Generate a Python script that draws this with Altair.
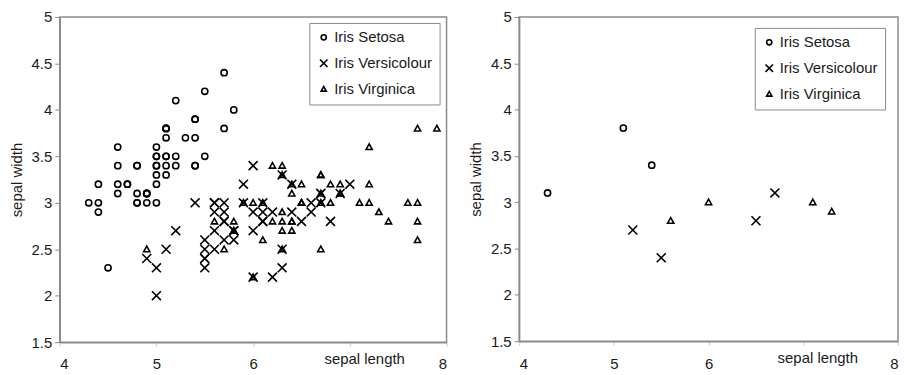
import altair as alt
import pandas as pd

species = ["Iris Setosa", "Iris Versicolour", "Iris Virginica"]

# ---- left panel: full data (sepal length, sepal width) ----
setosa_len = [5.1, 4.9, 4.7, 4.6, 5.0, 5.4, 4.6, 5.0, 4.4, 4.9, 5.4, 4.8, 4.8, 4.3, 5.8, 5.7, 5.4, 5.1, 5.7, 5.1,
              5.4, 5.1, 4.6, 5.1, 4.8, 5.0, 5.0, 5.2, 5.2, 4.7, 4.8, 5.4, 5.2, 5.5, 4.9, 5.0, 5.5, 4.9, 4.4, 5.1,
              5.0, 4.5, 4.4, 5.0, 5.1, 4.8, 5.1, 4.6, 5.3, 5.0]
setosa_wid = [3.5, 3.0, 3.2, 3.1, 3.6, 3.9, 3.4, 3.4, 2.9, 3.1, 3.7, 3.4, 3.0, 3.0, 4.0, 4.4, 3.9, 3.5, 3.8, 3.8,
              3.4, 3.7, 3.6, 3.3, 3.4, 3.0, 3.4, 3.5, 3.4, 3.2, 3.1, 3.4, 4.1, 4.2, 3.1, 3.2, 3.5, 3.1, 3.0, 3.4,
              3.5, 2.3, 3.2, 3.5, 3.8, 3.0, 3.8, 3.2, 3.7, 3.3]
versi_len = [7.0, 6.4, 6.9, 5.5, 6.5, 5.7, 6.3, 4.9, 6.6, 5.2, 5.0, 5.9, 6.0, 6.1, 5.6, 6.7, 5.6, 5.8, 6.2, 5.6,
             5.9, 6.1, 6.3, 6.1, 6.4, 6.6, 6.8, 6.7, 6.0, 5.7, 5.5, 5.5, 5.8, 6.0, 5.4, 6.0, 6.7, 6.3, 5.6, 5.5,
             5.5, 6.1, 5.8, 5.0, 5.6, 5.7, 5.7, 6.2, 5.1, 5.7]
versi_wid = [3.2, 3.2, 3.1, 2.3, 2.8, 2.8, 3.3, 2.4, 2.9, 2.7, 2.0, 3.0, 2.2, 2.9, 2.9, 3.1, 3.0, 2.7, 2.2, 2.5,
             3.2, 2.8, 2.5, 2.8, 2.9, 3.0, 2.8, 3.0, 2.9, 2.6, 2.4, 2.4, 2.7, 2.7, 3.0, 3.4, 3.1, 2.3, 3.0, 2.5,
             2.6, 3.0, 2.6, 2.3, 2.7, 3.0, 2.9, 2.9, 2.5, 2.8]
virg_len = [6.3, 5.8, 7.1, 6.3, 6.5, 7.6, 4.9, 7.3, 6.7, 7.2, 6.5, 6.4, 6.8, 5.7, 5.8, 6.4, 6.5, 7.7, 7.7, 6.0,
            6.9, 5.6, 7.7, 6.3, 6.7, 7.2, 6.2, 6.1, 6.4, 7.2, 7.4, 7.9, 6.4, 6.3, 6.1, 7.7, 6.3, 6.4, 6.0, 6.9,
            6.7, 6.9, 5.8, 6.8, 6.7, 6.7, 6.3, 6.5, 6.2, 5.9]
virg_wid = [3.3, 2.7, 3.0, 2.9, 3.0, 3.0, 2.5, 2.9, 2.5, 3.6, 3.2, 2.7, 3.0, 2.5, 2.8, 3.2, 3.0, 3.8, 2.6, 2.2,
            3.2, 2.8, 2.8, 2.7, 3.3, 3.2, 2.8, 3.0, 2.8, 3.0, 2.8, 3.8, 2.8, 2.8, 2.6, 3.0, 3.4, 3.1, 3.0, 3.1,
            3.1, 3.1, 2.7, 3.2, 3.3, 3.0, 2.5, 3.0, 3.4, 3.0]

# ---- right panel: new samples ----
new_setosa_len = [4.3, 5.1, 5.4]
new_setosa_wid = [3.1, 3.8, 3.4]
new_versi_len = [5.2, 5.5, 6.5, 6.7]
new_versi_wid = [2.7, 2.4, 2.8, 3.1]
new_virg_len = [5.6, 6.0, 7.1, 7.3]
new_virg_wid = [2.8, 3.0, 3.0, 2.9]

x_ticks = [4, 5, 6, 7, 8]
y_ticks = [1.5, 2, 2.5, 3, 3.5, 4, 4.5, 5]


def frame(groups):
    rows = []
    for name, (ls, ws) in zip(species, groups):
        for l, w in zip(ls, ws):
            rows.append({"species": name, "length": l, "width": w})
    return pd.DataFrame(rows)


left_df = frame([(setosa_len, setosa_wid), (versi_len, versi_wid), (virg_len, virg_wid)])
right_df = frame([(new_setosa_len, new_setosa_wid), (new_versi_len, new_versi_wid), (new_virg_len, new_virg_wid)])

circle_path = "M0.62,0A0.62,0.62,0,1,1,-0.62,0A0.62,0.62,0,1,1,0.62,0Z"
x_path = "M-0.9,-0.9L0.9,0.9M-0.9,0.9L0.9,-0.9"
tri_path = "M0,-0.62L0.62,0.5L-0.62,0.5Z"

FONT = "Liberation Sans"
GRAY = "#8a8a8a"
TEXT = "#1a1a1a"


def panel(df, width, height, lx, ly):
    return alt.Chart(df).mark_point(
        filled=False, color="black", strokeWidth=1.6, size=100, opacity=1
    ).encode(
        x=alt.X("length:Q",
                scale=alt.Scale(domain=[4, 8], nice=False, zero=False),
                axis=alt.Axis(values=x_ticks, title="sepal length", grid=False,
                              domainColor=GRAY, domainWidth=1.5,
                              tickColor="#cccccc", tickSize=4, tickWidth=1,
                              labelPadding=11, labelFontSize=15, labelFont=FONT, labelColor=TEXT,
                              labelExpr="datum.value == 7 ? '' : datum.label",
                              titleFont=FONT, titleFontSize=15, titleFontWeight="normal", titleColor=TEXT,
                              titleX=width * 0.787, titleY=21, titleBaseline="alphabetic")),
        y=alt.Y("width:Q",
                scale=alt.Scale(domain=[1.5, 5], nice=False, zero=False),
                axis=alt.Axis(values=y_ticks, title="sepal width", grid=False, format="~g",
                              domainColor=GRAY, domainWidth=1.5,
                              tickColor=GRAY, tickSize=5, tickWidth=1,
                              labelPadding=3, labelFontSize=15, labelFont=FONT, labelColor=TEXT,
                              titleFont=FONT, titleFontSize=15, titleFontWeight="normal", titleColor=TEXT,
                              titlePadding=7)),
        shape=alt.Shape("species:N",
                        scale=alt.Scale(domain=species, range=[circle_path, x_path, tri_path]),
                        legend=alt.Legend(title=None, orient="none", legendX=lx, legendY=ly,
                                          labelFont=FONT, labelFontSize=15, labelColor=TEXT,
                                          symbolSize=70, symbolStrokeWidth=1.6,
                                          symbolStrokeColor="black", symbolFillColor="transparent",
                                          symbolOpacity=1, labelOffset=3,
                                          rowPadding=10, padding=7,
                                          fillColor="white", strokeColor=GRAY)),
    ).properties(width=width, height=height)


left = panel(left_df, 389, 327, 251, 6)
right = panel(right_df, 381, 326, 237, 11)

chart = alt.hconcat(left, right, spacing=19).resolve_scale(
    shape="independent"
).resolve_legend(shape="independent").configure_view(
    stroke=GRAY, strokeWidth=1.5
).properties(
    padding={"left": 0, "top": 0, "right": 0, "bottom": 0},
    background="white"
)

chart.save("out.html", embed_options={"renderer": "svg", "actions": False})
